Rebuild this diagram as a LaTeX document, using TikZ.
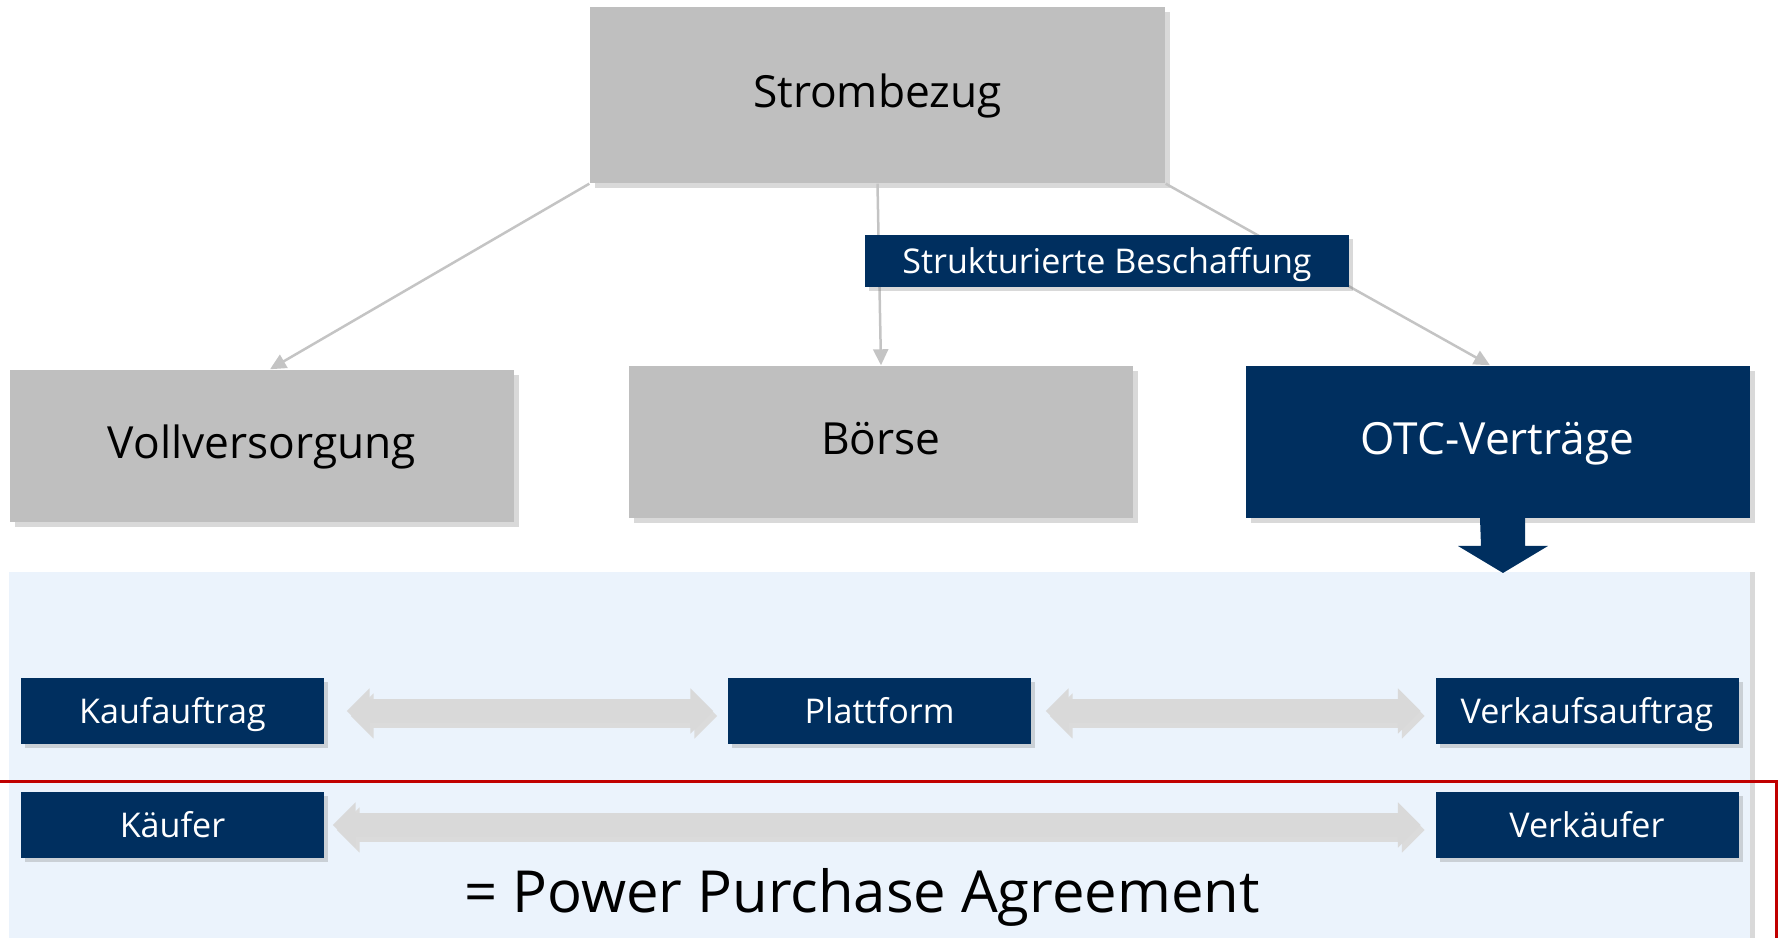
\documentclass[tikz,border=0pt]{standalone}
\usepackage{fontspec}
\setmainfont{Open Sans}
\usepackage{tikz}
\usetikzlibrary{arrows.meta,shadows}
\definecolor{ppnavy}{HTML}{002F5F}
\definecolor{ppgray}{HTML}{BFBFBF}
\definecolor{pplink}{HTML}{C4C4C4}
\definecolor{ppband}{HTML}{EBF3FC}
\definecolor{ppbar}{HTML}{D9D9D9}
\definecolor{ppred}{HTML}{C00000}

\begin{document}
\begin{tikzpicture}[x=0.1mm,y=-0.1mm,
  box/.style={fill=ppgray,inner sep=0pt,minimum width=50.4mm,minimum height=15.2mm,
    font=\fontsize{12.6}{15}\selectfont,text height=0.72em,text depth=0pt,
    drop shadow={shadow xshift=0.5mm,shadow yshift=-0.5mm,opacity=0.3}},
  navy/.style={fill=ppnavy,text=white},
  tag/.style={navy,inner sep=0pt,minimum width=48.4mm,minimum height=5.2mm,
    font=\fontsize{9.7}{12}\selectfont,text height=0.72em,text depth=0pt,
    drop shadow={shadow xshift=0.4mm,shadow yshift=-0.4mm,opacity=0.3}},
  role/.style={tag,minimum width=30.3mm,minimum height=6.6mm},
  link/.style={draw=pplink,line width=0.25mm,-{Triangle[length=1.6mm,width=1.5mm]}},
  dbl/.style={draw=ppbar,line width=2.4mm,
    {Triangle[length=2.3mm,width=4.4mm]}-{Triangle[length=2.3mm,width=4.4mm]},
    shorten <=1.4mm,shorten >=1.4mm},
  dblshade/.style={dbl,draw=black!14,transform canvas={xshift=0.4mm,yshift=-0.5mm}}]
  \useasboundingbox (0,0) rectangle (1781,938);

  % lower band with the trading roles
  \fill[ppband,drop shadow={shadow xshift=0.5mm,shadow yshift=0mm,opacity=0.3}]
    (9,572) rectangle (1750,960);
  \draw[ppred,line width=0.3mm] (0,782) -- (1776,782) -- (1776,960);

  % procurement tree
  \node[box,minimum width=57.5mm,minimum height=17.6mm] (bezug) at (877.5,95) {Strombezug};
  \node[box] (voll) at (262,446) {Vollversorgung};
  \node[box] (boerse) at (881,442) {Börse};
  \node[box,navy] (otc) at (1497.5,442) {OTC-Verträge};
  \draw[link] (bezug.south west) -- ([xshift=0.8mm]voll.north);
  \draw[link] (bezug.south) -- (boerse.north);
  \draw[link] (bezug.south east) -- ([xshift=-0.75mm]otc.north);
  \node[tag] (struk) at (1107,261) {Strukturierte Beschaffung};

  % OTC leads down into the band
  \coordinate (dn) at (1503,518);
  \fill[ppnavy] (dn) ++(-23,0) -- ++(45,0) -- ++(0,28) -- ++(23,0)
    -- (1503,573) -- ++(-45,-27) -- ++(23,0) -- cycle;

  % orders and parties
  \node[role] (kauf) at (172.5,711) {Kaufauftrag};
  \node[role] (platt) at (879.5,711) {Plattform};
  \node[role] (vkauf) at (1587,711) {Verkaufsauftrag};
  \node[role] (kaeufer) at (172.5,825) {Käufer};
  \node[role] (vkaeufer) at (1587,825) {Verkäufer};

  \draw[dblshade,shorten <=2.2mm] (kauf) -- (platt);
  \draw[dblshade] (platt) -- (vkauf);
  \draw[dblshade,shorten <=0.8mm] (kaeufer) -- (vkaeufer);
  \draw[dbl,shorten <=2.2mm] (kauf) -- (platt);
  \draw[dbl] (platt) -- (vkauf);
  \draw[dbl,shorten <=0.8mm] (kaeufer) -- (vkaeufer);

  \node[font=\fontsize{16.5}{20}\selectfont,anchor=base] (ppa) at (862,913)
    {= Power Purchase Agreement};
\end{tikzpicture}
\end{document}
